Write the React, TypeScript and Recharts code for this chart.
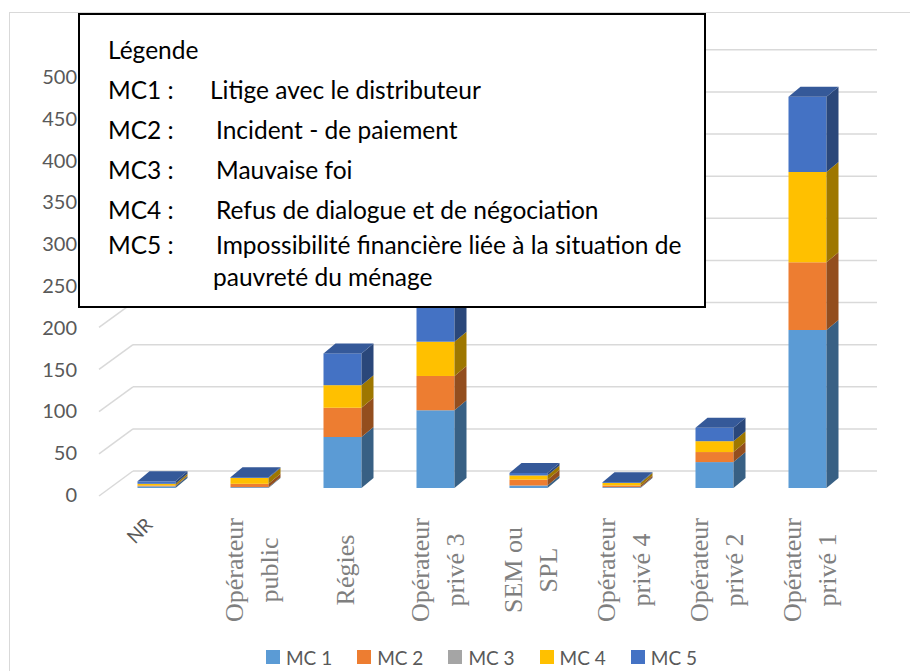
import React from 'react';
import { BarChart, Bar, XAxis, YAxis, Legend, CartesianGrid } from 'recharts';

// ---------- data ----------
const categories = [
  'NR',
  'Opérateur public',
  'Régies',
  'Opérateur privé 3',
  'SEM ou SPL',
  'Opérateur privé 4',
  'Opérateur privé 2',
  'Opérateur privé 1',
];
const categoryLines = [
  ['NR'],
  ['Opérateur', 'public'],
  ['Régies'],
  ['Opérateur', 'privé 3'],
  ['SEM ou', 'SPL'],
  ['Opérateur', 'privé 4'],
  ['Opérateur', 'privé 2'],
  ['Opérateur', 'privé 1'],
];
const angledLabels = ['NR'];

const mc1 = [2, 1, 61, 93, 3, 1, 31, 189];
const mc2 = [1, 4, 35, 41, 7, 2, 12, 81];
const mc3 = [0, 0, 0, 0, 0, 0, 0, 0];
const mc4 = [2, 7, 27, 41, 5, 3, 13, 108];
const mc5 = [3, 1, 38, 48, 3, 1, 16, 90];

const seriesKeys = ['mc1', 'mc2', 'mc3', 'mc4', 'mc5'];
const seriesNames = ['MC 1', 'MC 2', 'MC 3', 'MC 4', 'MC 5'];
const seriesColors = ['#5B9BD5', '#ED7D31', '#A5A5A5', '#FFC000', '#4472C4'];

const yTicks = [0, 50, 100, 150, 200, 250, 300, 350, 400, 450, 500];

const noteTitle = 'Légende';
const noteCodes = ['MC1 :', 'MC2 :', 'MC3 :', 'MC4 :', 'MC5 :'];
const noteTexts = [
  'Litige avec le distributeur',
  'Incident - de paiement',
  'Mauvaise foi',
  'Refus de dialogue et de négociation',
  'Impossibilité financière liée à la situation de',
];
const noteContinuation = 'pauvreté du ménage';

const data = categories.map((name, i) => ({
  name,
  mc1: mc1[i],
  mc2: mc2[i],
  mc3: mc3[i],
  mc4: mc4[i],
  mc5: mc5[i],
}));

// ---------- layout ----------
const W = 910;
const H = 671;
const PLOT_BOTTOM = 488;
const DX = 12;
const DY = -10;
const SANS = 'Lato, "Noto Sans", sans-serif';
const SERIF = '"Liberation Serif", "DejaVu Serif", serif';

function shade(hex: string, f: number) {
  const n = parseInt(hex.slice(1), 16);
  const r = Math.round(((n >> 16) & 255) * f);
  const g = Math.round(((n >> 8) & 255) * f);
  const b = Math.round((n & 255) * f);
  return `rgb(${r},${g},${b})`;
}

function make3DShape(si: number) {
  return (props: any) => {
    const { x, y, width, height, payload } = props;
    if (!height || height <= 0 || !width) return <g />;
    const color = seriesColors[si];
    const side = shade(color, 0.62);
    const top = shade(color, 0.78);
    const isTop = seriesKeys.slice(si + 1).every((k) => !(payload && payload[k] > 0));
    const xr = x + width;
    return (
      <g>
        <rect x={x} y={y} width={width} height={height} fill={color} />
        <polygon
          points={`${xr},${y} ${xr + DX},${y + DY} ${xr + DX},${y + height + DY} ${xr},${y + height}`}
          fill={side}
        />
        {isTop && (
          <polygon
            points={`${x},${y} ${x + DX},${y + DY} ${xr + DX},${y + DY} ${xr},${y}`}
            fill={top}
          />
        )}
      </g>
    );
  };
}

const gridLine = (props: any) => {
  const { x1, x2, y1 } = props;
  const k = (PLOT_BOTTOM - y1) * 0.0075;
  const backY = y1 - 17 - k;
  const frontY = y1 + 8 - k * 1.2;
  return (
    <g key={`g-${y1}`}>
      <line x1={x1 - 10.5} y1={frontY} x2={x1 + 23.5} y2={backY} stroke="#d9d9d9" strokeWidth={1.5} />
      <line x1={x1 + 23.5} y1={backY} x2={x2 + 23.5} y2={backY} stroke="#d9d9d9" strokeWidth={1.5} />
    </g>
  );
};

const YTick = (props: any) => {
  const { x, y, payload } = props;
  return (
    <text x={x} y={y + 6} textAnchor="end" dominantBaseline="central" fill="#595959" fontSize={20} fontFamily={SANS}>
      {payload.value}
    </text>
  );
};

const XTick = (props: any) => {
  const { x, y, index, payload } = props;
  const name = payload?.value ?? categories[index];
  const idx = categories.indexOf(name);
  const lines = categoryLines[idx >= 0 ? idx : index] || [String(name)];
  if (angledLabels.includes(name)) {
    const ax = x - 17;
    const ay = y + 34;
    return (
      <text x={ax} y={ay} textAnchor="middle" dominantBaseline="central" fill="#595959" fontSize={19} fontFamily={SANS} transform={`rotate(-45, ${ax}, ${ay})`}>
        {name}
      </text>
    );
  }
  const cy = y + 74;
  return (
    <g>
      {lines.map((ln: string, i: number) => {
        const lx = x + 3 + (i - (lines.length - 1) / 2) * 35;
        return (
          <text key={i} x={lx} y={cy} textAnchor="middle" dominantBaseline="central" fill="#7f7f7f" fontSize={26} fontFamily={SERIF} transform={`rotate(-90, ${lx}, ${cy})`}>
            {ln}
          </text>
        );
      })}
    </g>
  );
};

const LegendContent = () => (
  <div style={{ height: 24, display: 'flex', justifyContent: 'center', alignItems: 'center', fontFamily: SANS, fontSize: 19, color: '#595959' }}>
    {seriesNames.map((n, i) => (
      <div key={n} style={{ display: 'flex', alignItems: 'center', marginRight: i < seriesNames.length - 1 ? 25 : 0 }}>
        <div style={{ width: 14, height: 14, background: seriesColors[i], marginRight: 6 }} />
        <span style={{ whiteSpace: 'nowrap' }}>{n}</span>
      </div>
    ))}
  </div>
);

export default function App() {
  const rowCenters = [90, 130, 170, 210, 245];
  return (
    <div style={{ position: 'absolute', left: 0, top: 0, width: W, height: H, overflow: 'hidden', background: '#fff' }}>
      <div style={{ position: 'absolute', left: 9, top: 12, width: 1200, height: 1200, borderLeft: '1.5px solid #d9d9d9', borderTop: '1.5px solid #d9d9d9' }} />
      <BarChart width={W} height={H} data={data} margin={{ top: 70, right: 56.5, bottom: 2, left: 49.5 }} style={{ fontFamily: SANS }}>
        <CartesianGrid vertical={false} horizontal={gridLine} />
        <XAxis dataKey="name" axisLine={false} tickLine={false} height={157} interval={0} tick={XTick} />
        <YAxis domain={[0, 500]} ticks={yTicks} axisLine={false} tickLine={false} width={60} tickMargin={26.5} interval={0} tick={YTick} />
        <Legend verticalAlign="bottom" height={24} content={LegendContent} wrapperStyle={{ left: 109.5, width: 744 }} />
        {seriesKeys.map((k, i) => (
          <Bar key={k} dataKey={k} name={seriesNames[i]} stackId="s" fill={seriesColors[i]} barSize={38} isAnimationActive={false} shape={make3DShape(i)} />
        ))}
      </BarChart>
      <div style={{ position: 'absolute', left: 78, top: 13, width: 628, height: 295, boxSizing: 'border-box', border: '2px solid #000', background: '#fff' }} />
      <div style={{ position: 'absolute', left: 0, top: 0, width: W, height: H, pointerEvents: 'none', fontFamily: SANS, fontSize: 24.5, color: '#000' }}>
        <span style={{ position: 'absolute', left: 108, top: 50 - 15, lineHeight: '30px', whiteSpace: 'nowrap' }}>{noteTitle}</span>
        {noteCodes.map((c, i) => (
          <React.Fragment key={c}>
            <span style={{ position: 'absolute', left: 108, top: rowCenters[i] - 15, lineHeight: '30px', whiteSpace: 'nowrap' }}>{c}</span>
            <span style={{ position: 'absolute', left: i === 0 ? 210 : 216, top: rowCenters[i] - 15, lineHeight: '30px', whiteSpace: 'nowrap' }}>{noteTexts[i]}</span>
          </React.Fragment>
        ))}
        <span style={{ position: 'absolute', left: 213, top: 277 - 15, lineHeight: '30px', whiteSpace: 'nowrap' }}>{noteContinuation}</span>
      </div>
    </div>
  );
}
